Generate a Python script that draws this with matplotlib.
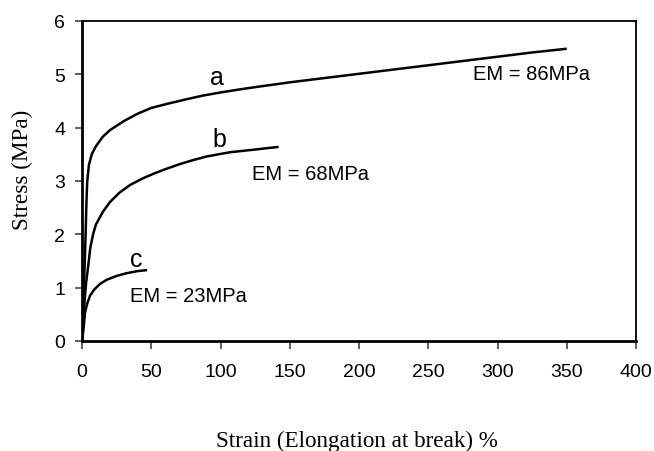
import matplotlib
matplotlib.use("Agg")
import matplotlib.pyplot as plt

# Curve a (EM = 86 MPa)
a_strain = [0, 1, 2, 2.6, 3.2, 3.8, 5, 7, 10, 15, 20, 30, 40, 50, 62, 75, 87, 100, 112, 125, 150, 175, 200, 225, 250, 275, 300, 325, 350]
a_stress = [0, 0.7, 1.5, 2.0, 2.6, 3.0, 3.3, 3.5, 3.65, 3.83, 3.95, 4.12, 4.26, 4.37, 4.45, 4.53, 4.6, 4.66, 4.71, 4.76, 4.85, 4.93, 5.01, 5.09, 5.17, 5.25, 5.33, 5.41, 5.48]
# Curve b (EM = 68 MPa)
b_strain = [0, 1, 2, 3, 4.5, 6, 8, 10, 15, 20, 27, 35, 44, 52, 60, 71, 80, 90, 107, 125, 142]
b_stress = [0, 0.4, 0.8, 1.1, 1.41, 1.75, 2.0, 2.18, 2.42, 2.6, 2.78, 2.93, 3.05, 3.14, 3.22, 3.32, 3.39, 3.46, 3.54, 3.59, 3.64]
# Curve c (EM = 23 MPa)
c_strain = [0, 0.5, 1, 2.2, 4, 5.8, 9, 13, 18, 25, 32, 40, 47]
c_stress = [0, 0.1, 0.2, 0.54, 0.72, 0.85, 0.97, 1.07, 1.15, 1.22, 1.27, 1.31, 1.33]

x_ticks = [0, 50, 100, 150, 200, 250, 300, 350, 400]
y_ticks = [0, 1, 2, 3, 4, 5, 6]

fig = plt.figure(figsize=(6.54, 4.52), dpi=100)
ax = fig.add_axes([82/654, 1-342/452, (636-82)/654, (342-22)/452])

for xs, ys in [(a_strain, a_stress), (b_strain, b_stress), (c_strain, c_stress)]:
    ax.plot(xs, ys, color="black", lw=1.8, solid_capstyle="butt", solid_joinstyle="round")

ax.set_xlim(0, 400)
ax.set_ylim(0, 6)
ax.set_xticks(x_ticks)
ax.set_yticks(y_ticks)
sans = "Liberation Sans"
serif = "Liberation Serif"
ax.set_xticklabels([str(v) for v in x_ticks], fontfamily=sans, fontsize=14)
ax.set_yticklabels([str(v) for v in y_ticks], fontfamily=sans, fontsize=14)
ax.tick_params(axis="x", direction="out", length=6, width=1.2, pad=10, color="#444444", labelcolor="black")
ax.tick_params(axis="y", direction="out", length=5, width=1.2, pad=7, color="#444444", labelcolor="black")
for side, sp in ax.spines.items():
    sp.set_linewidth(2.0 if side in ("left", "bottom") else 1.3)
    sp.set_color("black")

txt = dict(fontfamily=sans, color="black")
ax.text(92.4, 4.82, "a", fontsize=18, ha="left", va="baseline", **txt)
ax.text(94, 3.66, "b", fontsize=18, ha="left", va="baseline", **txt)
ax.text(34.7, 1.41, "c", fontsize=18, ha="left", va="baseline", **txt)
ax.text(282, 4.92, "EM = 86MPa", fontsize=14.5, ha="left", va="baseline", **txt)
ax.text(122.7, 3.04, "EM = 68MPa", fontsize=14.5, ha="left", va="baseline", **txt)
ax.text(34.7, 0.75, "EM = 23MPa", fontsize=14.5, ha="left", va="baseline", **txt)

fig.text(22/654, 1-170/452, "Stress (MPa)", rotation=90, ha="center", va="center",
         fontfamily=serif, fontsize=16.7)
fig.text(357/654, 1-447/452, "Strain (Elongation at break) %", ha="center", va="baseline",
         fontfamily=serif, fontsize=16.7)

fig.savefig("out.png", dpi=100)
